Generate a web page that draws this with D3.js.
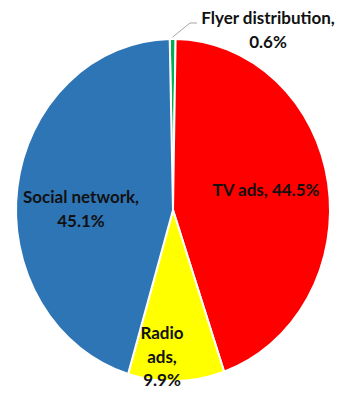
<!DOCTYPE html>
<html><head><meta charset="utf-8">
<script src="https://cdn.jsdelivr.net/npm/d3@7"></script>
<style>html,body{margin:0;padding:0;background:#fff;}svg{display:block;}</style>
</head><body>
<svg id="chart" width="343" height="394"></svg>
<script>
const categories = ["Flyer distribution", "TV ads", "Radio ads", "Social network"];
const values = [0.6, 44.5, 9.9, 45.1];
const colors = ["#00B050", "#FF0000", "#FFFF00", "#2E75B6"];
const labelLines = [["Flyer distribution,", "0.6%"], ["TV ads, 44.5%"], ["Radio", "ads,", "9.9%"], ["Social network,", "45.1%"]];

const svg = d3.select("#chart");
const cx = 173, cy = 210, rx = 157, ry = 171;
const data = categories.map((c, i) => ({ name: c, value: values[i], color: colors[i], lines: labelLines[i] }));
const startRad = -1.2 * Math.PI / 180;
const pie = d3.pie().sort(null).value(d => d.value).startAngle(startRad).endAngle(startRad + 2 * Math.PI);
const arc = d3.arc().innerRadius(0).outerRadius(rx);
const arcs = pie(data);

const g = svg.append("g").attr("transform", `translate(${cx},${cy}) scale(1,${ry / rx})`);
g.selectAll("path").data(arcs).join("path")
  .attr("d", arc)
  .attr("fill", d => d.data.color)
  .attr("stroke", "#fff")
  .attr("stroke-width", 2)
  .attr("vector-effect", "non-scaling-stroke");

const labelPos = [
  { x: 268, y: 24, leader: true },
  { x: 266, y: 196 },
  { x: 162, y: 339 },
  { x: 81, y: 203 }
];
const font = "Lato, 'Open Sans', sans-serif";
arcs.forEach((a, i) => {
  const p = labelPos[i];
  const t = svg.append("text")
    .attr("x", p.x).attr("y", p.y)
    .attr("text-anchor", "middle")
    .attr("font-family", font)
    .attr("font-weight", "bold")
    .attr("font-size", 17)
    .attr("fill", "#111");
  a.data.lines.forEach((ln, j) => {
    t.append("tspan").attr("x", p.x).attr("dy", j === 0 ? 0 : 23.5).text(ln);
  });
  if (p.leader) {
    const mid = (a.startAngle + a.endAngle) / 2;
    const ex = cx + Math.sin(mid) * rx, ey = cy - Math.cos(mid) * ry;
    svg.append("polyline")
      .attr("points", `${ex},${ey - 2} 190,23 197,23`)
      .attr("fill", "none").attr("stroke", "#a6a6a6").attr("stroke-width", 1);
  }
});
</script>
</body></html>
